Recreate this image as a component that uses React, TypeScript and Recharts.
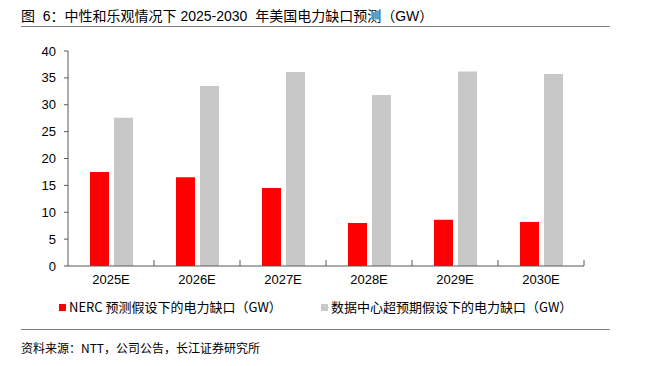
import { BarChart, Bar, XAxis, YAxis } from 'recharts';

const years = ['2025E', '2026E', '2027E', '2028E', '2029E', '2030E'];
const nercGap = [17.5, 16.5, 14.5, 8.0, 8.6, 8.2];
const dcGap = [27.6, 33.5, 36.1, 31.8, 36.2, 35.7];
const yTicks = [0, 5, 10, 15, 20, 25, 30, 35, 40];
const seriesNames = ['NERC 预测假设下的电力缺口（GW）', '数据中心超预期假设下的电力缺口（GW）'];
const seriesColors = ['#ff0000', '#c8c8c8'];

const title = '图  6：中性和乐观情况下 2025-2030  年美国电力缺口预测（GW）';
const source = '资料来源：NTT，公司公告，长江证券研究所';

const data = years.map((year, i) => ({ year, nerc: nercGap[i], dc: dcGap[i] }));

const axisColor = '#595959';
const font = '"Liberation Sans", "Noto Sans CJK SC", sans-serif';
const cjkFont = '"Noto Sans CJK SC", "Liberation Sans", sans-serif';
const labelGap = 9;

// category label plus a small upward tick at the right edge of each band
const YearTick = (props: any) => {
    const { x, y, payload } = props;
    const half = payload?.offset ?? 43;
    const axisY = y - labelGap;
    return (
        <g>
            <line x1={x + half} x2={x + half} y1={axisY} y2={axisY - 6} stroke={axisColor} />
            <text x={x} y={y} dy="0.71em" textAnchor="middle" fill="#000" fontSize={13} fontFamily={font}>
                {payload.value}
            </text>
        </g>
    );
};

const App = () => {
    return (
        <div style={{ position: 'absolute', left: 0, top: 0, width: 654, height: 366, background: '#fff', fontFamily: font }}>
            <div style={{ position: 'absolute', left: 21, top: 8, fontSize: 14, color: '#000', whiteSpace: 'pre', lineHeight: '17px' }}>
                {title}
            </div>
            <div style={{ position: 'absolute', left: 21, top: 26, width: 589, height: 1, background: '#7f7f7f' }} />

            <BarChart
                width={654}
                height={366}
                data={data}
                margin={{ top: 51, right: 70, bottom: 70, left: 28 }}
                barGap={5}
                barSize={19}
            >
                <XAxis
                    dataKey="year"
                    height={30}
                    axisLine={{ stroke: axisColor }}
                    tickLine={false}
                    tickSize={0}
                    tickMargin={labelGap}
                    tick={<YearTick />}
                    interval={0}
                />
                <YAxis
                    width={40}
                    domain={[0, 40]}
                    ticks={yTicks}
                    interval={0}
                    axisLine={{ stroke: axisColor }}
                    tickLine={{ stroke: axisColor }}
                    tickSize={4}
                    tickMargin={8}
                    tick={{ fill: '#000', fontSize: 13, fontFamily: font }}
                />
                <Bar dataKey="nerc" name={seriesNames[0]} fill={seriesColors[0]} isAnimationActive={false} />
                <Bar dataKey="dc" name={seriesNames[1]} fill={seriesColors[1]} isAnimationActive={false} />
            </BarChart>

            {seriesNames.map((name, i) => (
                <div
                    key={name}
                    style={{
                        position: 'absolute',
                        left: i === 0 ? 59 : 321,
                        top: 299,
                        display: 'flex',
                        alignItems: 'center',
                        fontSize: 13,
                        fontFamily: cjkFont,
                        color: '#000',
                        whiteSpace: 'nowrap',
                        lineHeight: '16px',
                    }}
                >
                    <span style={{ display: 'inline-block', width: 7, height: 7, background: seriesColors[i], marginRight: 3 }} />
                    {name}
                </div>
            ))}

            <div style={{ position: 'absolute', left: 21, top: 329, width: 589, height: 1, background: '#7f7f7f' }} />
            <div style={{ position: 'absolute', left: 21, top: 340, fontSize: 12, fontFamily: cjkFont, color: '#000', whiteSpace: 'nowrap', lineHeight: '16px' }}>
                {source}
            </div>
        </div>
    );
};

export default App;
